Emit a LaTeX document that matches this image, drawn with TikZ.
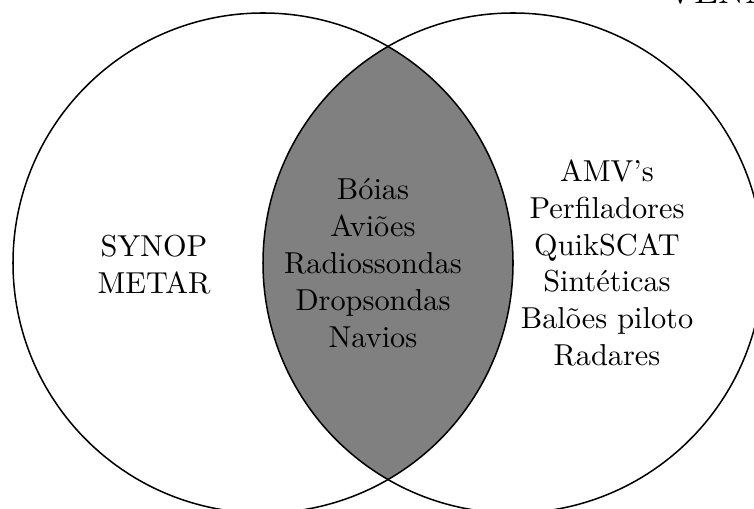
\documentclass[tikz,border=0pt]{standalone}
\usepackage{fontspec}
\begin{document}
\begin{tikzpicture}[x=0.33pt, y=-0.33pt,
    setring/.style={draw=black, line width=0.5pt},
    lens/.style={fill=gray},
    label/.style={align=center, font=\fontsize{10}{12.2}\selectfont, inner sep=0pt}]
  \useasboundingbox (0,0) rectangle (754,509);
  % centres of the two sets
  \coordinate (L) at (263,263);
  \coordinate (R) at (513,263);
  % shaded intersection
  \begin{scope}
    \clip (L) circle[radius=250];
    \fill[lens] (R) circle[radius=250];
  \end{scope}
  \draw[setring] (L) circle[radius=250];
  \draw[setring] (R) circle[radius=250];
  % contents of each region
  \node[label] (left) at (154,265) {SYNOP\\METAR};
  \node[label] (mid) at (373,263) {Bóias\\Aviões\\Radiossondas\\Dropsondas\\Navios};
  \node[label] (right) at (607,263) {AMV's\\Perfiladores\\QuikSCAT\\Sintéticas\\Balões piloto\\Radares};
  % heading
  \node[anchor=base west, font=\large, inner sep=0pt] (title) at (667,4) {VENN};
\end{tikzpicture}
\end{document}
